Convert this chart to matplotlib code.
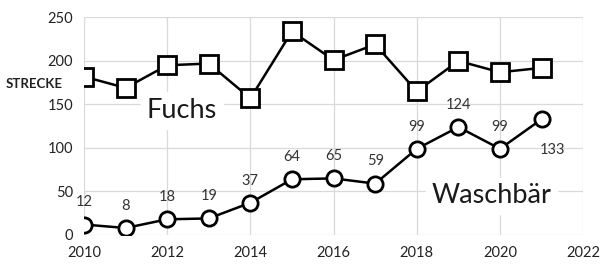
import matplotlib
matplotlib.use('Agg')
import matplotlib.pyplot as plt

plt.rcParams['font.family'] = ['Lato', 'DejaVu Sans']

years = [2010, 2011, 2012, 2013, 2014, 2015, 2016, 2017, 2018, 2019, 2020, 2021]
fuchs = [182, 169, 195, 197, 157, 234, 201, 219, 165, 200, 187, 192]
waschbaer = [12, 8, 18, 19, 37, 64, 65, 59, 99, 124, 99, 133]
x_ticks = [2010, 2012, 2014, 2016, 2018, 2020, 2022]
y_ticks = [0, 50, 100, 150, 200, 250]

fig = plt.figure(figsize=(6, 2.64), dpi=100)
ax = fig.add_axes([0.14, 0.11, 0.832, 0.824])

ax.plot(years, fuchs, color='black', lw=1.8, marker='s', markersize=13,
        markerfacecolor='white', markeredgecolor='black', markeredgewidth=2, zorder=3)
ax.plot(years, waschbaer, color='black', lw=1.8, marker='o', markersize=11,
        markerfacecolor='white', markeredgecolor='black', markeredgewidth=2, zorder=3)

# data labels for raccoon series
for i, (x, y) in enumerate(zip(years, waschbaer)):
    if i == len(years) - 1:
        ax.annotate(str(y), (x, y), xytext=(8, -22), textcoords='offset points',
                    ha='center', va='center', fontsize=10.5, color='#333333')
    else:
        ax.annotate(str(y), (x, y), xytext=(0, 16), textcoords='offset points',
                    ha='center', va='center', fontsize=10.5, color='#333333')

ax.text(2012.35, 143, 'Fuchs', fontsize=19.5, ha='center', va='center',
        color='#1a1a1a', backgroundcolor='white', zorder=2)
ax.text(2019.8, 45, 'Waschbär', fontsize=19.5, ha='center', va='center',
        color='#1a1a1a', backgroundcolor='white', zorder=2)

ax.set_xlim(2010, 2022)
ax.set_ylim(0, 250)
ax.set_xticks(x_ticks)
ax.set_yticks(y_ticks)
ax.tick_params(length=0, labelsize=10.5, colors='#222222', pad=8)
ax.grid(True, color='#d9d9d9', lw=0.9)
ax.set_axisbelow(True)
for s in ax.spines.values():
    s.set_visible(False)

fig.text(0.01, 0.68, 'STRECKE', fontsize=9.5, fontweight='bold', ha='left', va='center',
         color='#222222')

fig.savefig('out.png', dpi=100)
